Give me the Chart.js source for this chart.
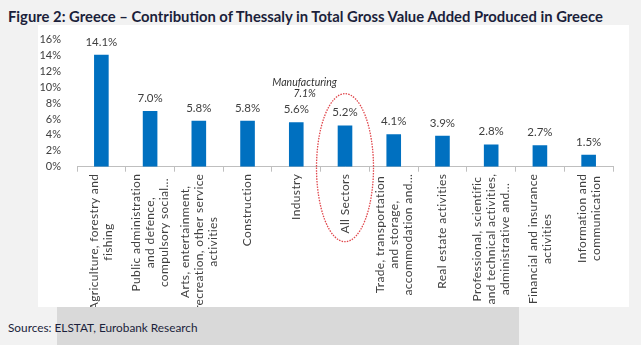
<!DOCTYPE html>
<html>
<head>
<meta charset="utf-8">
<script src="https://cdn.jsdelivr.net/npm/chart.js@4/dist/chart.umd.min.js"></script>
<style>
  html, body { margin: 0; padding: 0; }
  body { width: 641px; height: 345px; background: #f2f2f2; position: relative; overflow: hidden; font-family: Lato, "Open Sans", sans-serif; }
  #title { position: absolute; left: 8px; top: 7px; font-weight: bold; font-size: 14.8px; color: #1b1f3b; white-space: nowrap; }
  #panel { position: absolute; left: 38px; top: 25px; width: 591px; height: 282px; background: #ffffff; }
  #band { position: absolute; left: 57px; top: 307px; width: 462px; height: 38px; background: #d9d9d9; }
  #source { position: absolute; left: 8px; top: 320px; font-size: 11.8px; color: #1b1f3b; white-space: nowrap; }
  canvas { display: block; }
</style>
</head>
<body>
<div id="title">Figure 2: Greece – Contribution of Thessaly in Total Gross Value Added Produced in Greece</div>
<div id="panel"><canvas id="chart" width="591" height="282"></canvas></div>
<div id="band"></div>
<div id="source">Sources: ELSTAT, Eurobank Research</div>
<script>
// Sector labels (each entry split into its printed lines)
const categories = [
  ["Agriculture, forestry and", "fishing"],
  ["Public administration", "and defence,", "compulsory social..."],
  ["Arts, entertainment,", "recreation, other service", "activities"],
  ["Construction"],
  ["Industry"],
  ["All Sectors"],
  ["Trade, transportation", "and storage,", "accommodation and..."],
  ["Real estate activities"],
  ["Professional, scientific", "and technical activities,", "administrative and..."],
  ["Financial and insurance", "activities"],
  ["Information and", "communication"]
];
// Share of Thessaly in national gross value added, %
const shares = [14.1, 7.0, 5.8, 5.8, 5.6, 5.2, 4.1, 3.9, 2.8, 2.7, 1.5];
const yTicks = [0, 2, 4, 6, 8, 10, 12, 14, 16];
const highlightIndex = 5;            // "All Sectors"
const noteLines = ["Manufacturing", "7.1%"];

const FONT = 'Lato, "Open Sans", sans-serif';
const TEXT = '#404040';

// Value labels above bars
const valueLabels = {
  id: 'valueLabels',
  afterDatasetsDraw(chart) {
    const ctx = chart.ctx;
    const meta = chart.getDatasetMeta(0);
    ctx.save();
    ctx.font = '11.5px ' + FONT;
    ctx.fillStyle = TEXT;
    ctx.textAlign = 'center';
    ctx.textBaseline = 'bottom';
    meta.data.forEach((bar, i) => {
      ctx.fillText(shares[i].toFixed(1) + '%', bar.x, bar.y - 7);
    });
    ctx.restore();
  }
};

// Rotated, centred multi-line category labels under the axis
const categoryLabels = {
  id: 'categoryLabels',
  afterDraw(chart) {
    const ctx = chart.ctx;
    const x = chart.scales.x;
    const top = x.top + 7;
    const lh = 14;
    ctx.save();
    ctx.font = '12px ' + FONT;
    if ('letterSpacing' in ctx) ctx.letterSpacing = '0.35px';
    ctx.fillStyle = TEXT;
    ctx.textAlign = 'center';
    ctx.textBaseline = 'middle';
    categories.forEach((lines, i) => {
      const px = x.getPixelForValue(i);
      const w = Math.max(...lines.map(l => ctx.measureText(l).width));
      ctx.save();
      ctx.translate(px, top);
      ctx.rotate(-Math.PI / 2);
      lines.forEach((l, k) => {
        ctx.fillText(l, -w / 2, (k - (lines.length - 1) / 2) * lh);
      });
      ctx.restore();
    });
    ctx.restore();
  }
};

// Manufacturing note and dotted ring around the "All Sectors" bar
const highlight = {
  id: 'highlight',
  afterDraw(chart) {
    const ctx = chart.ctx;
    const x = chart.scales.x, y = chart.scales.y;
    const cx = x.getPixelForValue(highlightIndex);
    const base = y.getPixelForValue(0);
    ctx.save();
    ctx.strokeStyle = '#e0474c';
    ctx.lineWidth = 1.3;
    ctx.setLineDash([1.5, 1.2]);
    ctx.beginPath();
    ctx.ellipse(cx, base + 1, 28.5, 74, 0, 0, Math.PI * 2);
    ctx.stroke();
    ctx.setLineDash([]);
    const nx = (x.getPixelForValue(highlightIndex - 1) + cx) / 2 - 16;
    ctx.font = 'italic 10.5px ' + FONT;
    ctx.fillStyle = '#333333';
    ctx.textAlign = 'center';
    ctx.textBaseline = 'middle';
    ctx.fillText(noteLines[0], nx, y.top + 42.7);
    ctx.fillText(noteLines[1], nx, y.top + 53.7);
    ctx.restore();
  }
};

new Chart(document.getElementById('chart'), {
  type: 'bar',
  data: {
    labels: categories.map(c => c.join(' ')),
    datasets: [{
      data: shares,
      backgroundColor: '#0070c0',
      borderWidth: 0,
      categoryPercentage: 1,
      barPercentage: 0.3
    }]
  },
  options: {
    responsive: false,
    animation: false,
    events: [],
    layout: { padding: { top: 14, right: 16, bottom: 0, left: 0 } },
    plugins: { legend: { display: false }, tooltip: { enabled: false } },
    scales: {
      x: {
        grid: {
          offset: true,
          drawOnChartArea: false,
          drawTicks: true,
          tickLength: 5,
          color: '#bfbfbf',
          lineWidth: 1
        },
        border: { display: true, color: '#bfbfbf', width: 1 },
        ticks: { display: false },
        afterFit(scale) { scale.height = 140.3; }
      },
      y: {
        min: 0,
        max: 16,
        afterBuildTicks(scale) { scale.ticks = yTicks.map(v => ({ value: v })); },
        grid: { display: false },
        border: { display: false },
        ticks: {
          autoSkip: false,
          padding: 8,
          color: TEXT,
          font: { family: FONT, size: 11 },
          callback: v => v + '%'
        },
        afterFit(scale) { scale.width = 39; }
      }
    }
  },
  plugins: [valueLabels, categoryLabels, highlight]
});
</script>
</body>
</html>
